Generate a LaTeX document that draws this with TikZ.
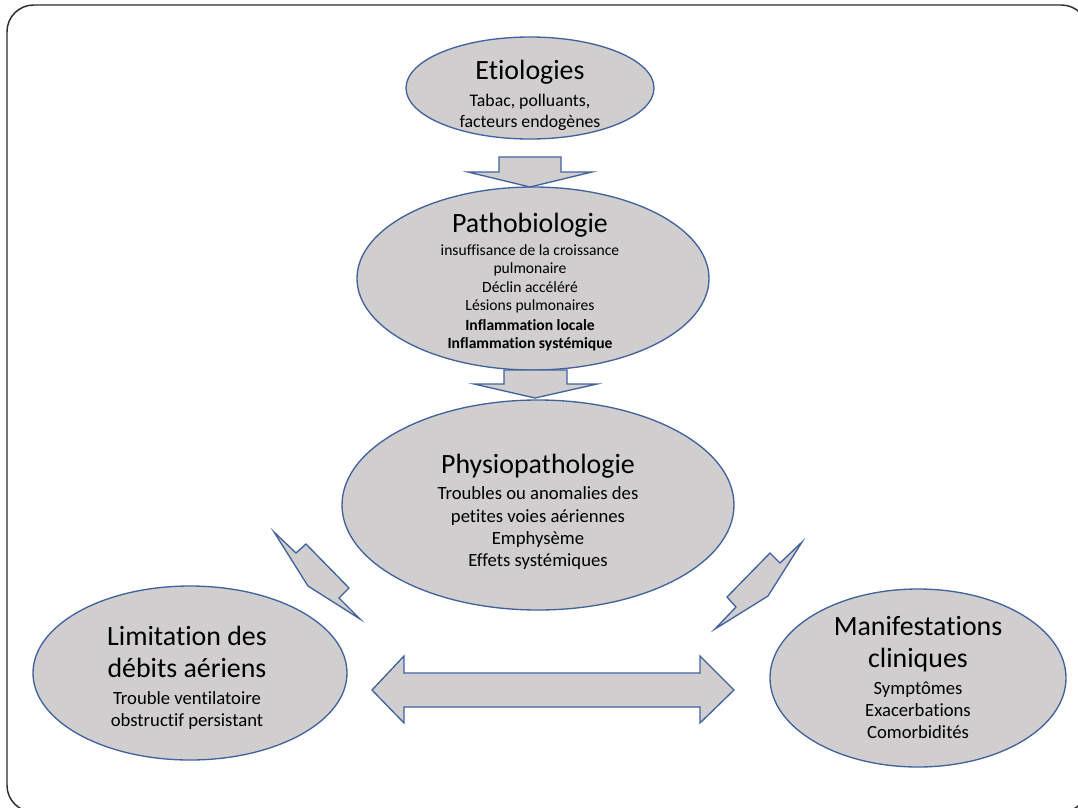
\documentclass[tikz,border=0pt]{standalone}
\usepackage{fontspec}
\setmainfont{Carlito}[Ligatures=NoCommon]
\definecolor{shapefill}{RGB}{208,206,207}
\definecolor{shapeline}{RGB}{66,98,158}
\definecolor{framecol}{RGB}{45,45,45}
\begin{document}
\begin{tikzpicture}[x=0.75pt,y=-0.75pt,
  shp/.style={draw=shapeline,fill=shapefill,line width=1pt,line join=miter},
  ttl/.style={anchor=base,inner sep=0pt,font=\fontsize{20.9}{24}\selectfont},
  sEt/.style={anchor=base,inner sep=0pt,font=\fontsize{13.3}{15}\selectfont},
  sPa/.style={anchor=base,inner sep=0pt,font=\fontsize{11.7}{14}\selectfont},
  sPh/.style={anchor=base,inner sep=0pt,font=\fontsize{14}{16}\selectfont}]
\useasboundingbox (0,0) rectangle (1078,807);
\draw[framecol,line width=1.1pt,rounded corners=20pt] (7,5) rectangle (1088,812);
% ellipses
\path[shp] (530,88) ellipse [x radius=124, y radius=51];
\path[shp] (533,278.5) ellipse [x radius=176, y radius=91.5];
\path[shp] (538,505) ellipse [x radius=196, y radius=105];
\path[shp] (190,673) ellipse [x radius=157, y radius=87];
\path[shp] (918,678) ellipse [x radius=148, y radius=89];
% down arrows
\path[shp] (499,157) -- (561,157) -- (561,172) -- (592,172) -- (530,187) -- (468,172) -- (499,172) -- cycle;
\path[shp] (504,370) -- (567,370) -- (567,384) -- (597,384) -- (535,398) -- (474,384) -- (504,384) -- cycle;
% lightning arrows
\path[shp] (274,532) -- (296,553) -- (306,544) -- (349,588) -- (339,598) -- (360,619) -- (308,586) -- cycle;
\path[shp] (802,542) -- (780,563) -- (770,553) -- (727,597) -- (736,607) -- (715,629) -- (768,596) -- cycle;
% double arrow
\path[shp] (372,690) -- (404,656) -- (404,673) -- (700,673) -- (700,656) -- (734,690) -- (700,723) -- (700,707) -- (404,707) -- (404,723) -- cycle;
% texts
\node[ttl] (et) at (530,79) {Etiologies};
\node[sEt] (et1) at (530,106) {Tabac, polluants,};
\node[sEt] (et2) at (530,127) {facteurs endogènes};
\node[ttl] (pa) at (530,232) {Pathobiologie};
\node[sPa] (pa1) at (530,255) {insuffisance de la croissance};
\node[sPa] (pa2) at (530,273) {pulmonaire};
\node[sPa] (pa3) at (530,292) {Déclin accéléré};
\node[sPa] (pa4) at (530,310) {Lésions pulmonaires};
\node[sPa,font=\fontsize{11.7}{14}\selectfont\bfseries] (pa5) at (530,330) {Inflammation locale};
\node[sPa,font=\fontsize{11.7}{14}\selectfont\bfseries] (pa6) at (530,348) {Inflammation systémique};
\node[ttl] (ph) at (538,473) {Physiopathologie};
\node[sPh] (ph1) at (538,499) {Troubles ou anomalies des};
\node[sPh] (ph2) at (538,522) {petites voies aériennes};
\node[sPh] (ph3) at (538,544) {Emphysème};
\node[sPh] (ph4) at (538,566) {Effets systémiques};
\node[ttl] (li1) at (187,645) {Limitation des};
\node[ttl] (li2) at (187,677) {débits aériens};
\node[sPh] (li3) at (187,704) {Trouble ventilatoire};
\node[sPh] (li4) at (187,726) {obstructif persistant};
\node[ttl] (ma1) at (918,635) {Manifestations};
\node[ttl] (ma2) at (918,667) {cliniques};
\node[sPh] (ma3) at (918,694) {Symptômes};
\node[sPh] (ma4) at (918,716) {Exacerbations};
\node[sPh] (ma5) at (918,738) {Comorbidités};
\end{tikzpicture}
\end{document}
